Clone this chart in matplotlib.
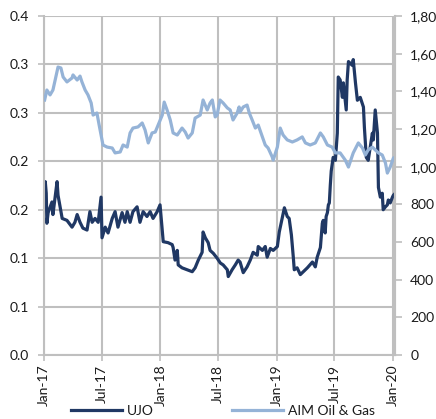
import matplotlib
matplotlib.use("Agg")
import matplotlib.pyplot as plt
import pandas as pd

plt.rcParams['font.family'] = ['Lato', 'DejaVu Sans']

# ---------------- data ----------------
ujo_dates = [
    "2017-01-03", "2017-01-05", "2017-01-08", "2017-01-10", "2017-01-14", "2017-01-26", "2017-01-29",
    "2017-02-11", "2017-02-14", "2017-02-27", "2017-03-14", "2017-03-30", "2017-04-08", "2017-04-15",
    "2017-04-24", "2017-05-03", "2017-05-16", "2017-05-25", "2017-06-01", "2017-06-10", "2017-06-20",
    "2017-06-29", "2017-07-02", "2017-07-12", "2017-07-21", "2017-08-03", "2017-08-12", "2017-08-21",
    "2017-09-03", "2017-09-12", "2017-09-19", "2017-09-28", "2017-10-07", "2017-10-20", "2017-10-29",
    "2017-11-08", "2017-11-20", "2017-11-30", "2017-12-09", "2017-12-22", "2017-12-31",
    "2018-01-07", "2018-01-10", "2018-01-25", "2018-02-07", "2018-02-10", "2018-02-16", "2018-02-23",
    "2018-02-26", "2018-03-10", "2018-03-26", "2018-04-11", "2018-04-20", "2018-04-30", "2018-05-12",
    "2018-05-15", "2018-05-22", "2018-05-31", "2018-06-06", "2018-06-16", "2018-06-28", "2018-07-08",
    "2018-07-17", "2018-07-30", "2018-08-02", "2018-08-14", "2018-08-24", "2018-09-02", "2018-09-08",
    "2018-09-18", "2018-09-30", "2018-10-10", "2018-10-19", "2018-11-01", "2018-11-04", "2018-11-17",
    "2018-11-26", "2018-12-02", "2018-12-12", "2018-12-21",
    "2019-01-03", "2019-01-09", "2019-01-18", "2019-01-25", "2019-02-03", "2019-02-09", "2019-02-16",
    "2019-02-22", "2019-02-25", "2019-03-06", "2019-03-16", "2019-04-07", "2019-04-23", "2019-05-02",
    "2019-05-08", "2019-05-18", "2019-05-24", "2019-05-27", "2019-06-02", "2019-06-05", "2019-06-09",
    "2019-06-12", "2019-06-15", "2019-06-18", "2019-06-21", "2019-06-27", "2019-07-04", "2019-07-10",
    "2019-07-13", "2019-07-19", "2019-07-26", "2019-07-29", "2019-08-07", "2019-08-10", "2019-08-14",
    "2019-08-26", "2019-08-29", "2019-09-05", "2019-09-11", "2019-09-20", "2019-09-30", "2019-10-03",
    "2019-10-09", "2019-10-15", "2019-10-28", "2019-10-31", "2019-11-06", "2019-11-13", "2019-11-16",
    "2019-11-22", "2019-11-28", "2019-12-01", "2019-12-08", "2019-12-14", "2019-12-17", "2019-12-23",
    "2019-12-30", "2020-01-02", "2020-01-08",
]
ujo_values = [
    0.173, 0.179, 0.167, 0.136, 0.147, 0.158, 0.145,
    0.179, 0.165, 0.141, 0.139, 0.132, 0.137, 0.145,
    0.137, 0.131, 0.129, 0.148, 0.137, 0.141, 0.137,
    0.163, 0.121, 0.132, 0.126, 0.141, 0.148, 0.132,
    0.147, 0.137, 0.148, 0.137, 0.148, 0.153, 0.137,
    0.148, 0.143, 0.148, 0.141, 0.148, 0.155,
    0.129, 0.117, 0.116, 0.114, 0.111, 0.098, 0.108,
    0.093, 0.090, 0.088, 0.086, 0.090, 0.098, 0.106,
    0.127, 0.121, 0.116, 0.108, 0.105, 0.100, 0.095,
    0.093, 0.088, 0.081, 0.088, 0.093, 0.098, 0.096,
    0.085, 0.091, 0.098, 0.106, 0.103, 0.112, 0.108,
    0.112, 0.101, 0.110, 0.108,
    0.112, 0.127, 0.141, 0.152, 0.143, 0.141, 0.124,
    0.101, 0.088, 0.090, 0.083, 0.090, 0.096, 0.091,
    0.101, 0.111, 0.136, 0.139, 0.126, 0.143, 0.147,
    0.155, 0.157, 0.175, 0.190, 0.204, 0.201, 0.229,
    0.287, 0.284, 0.266, 0.281, 0.253, 0.284, 0.303,
    0.299, 0.305, 0.281, 0.263, 0.266, 0.256, 0.235,
    0.204, 0.201, 0.229, 0.222, 0.253, 0.229, 0.173,
    0.163, 0.167, 0.150, 0.153, 0.155, 0.160, 0.157,
    0.163, 0.165, 0.167,
]

aim_dates = [
    "2017-01-03", "2017-01-10", "2017-01-20", "2017-01-29", "2017-02-05", "2017-02-14", "2017-02-23",
    "2017-03-02", "2017-03-14", "2017-03-30", "2017-04-02", "2017-04-15", "2017-04-24", "2017-04-30",
    "2017-05-10", "2017-05-19", "2017-05-29", "2017-06-04", "2017-06-16", "2017-06-23", "2017-07-05",
    "2017-07-18", "2017-08-03", "2017-08-12", "2017-08-28", "2017-09-06", "2017-09-19", "2017-09-28",
    "2017-10-07", "2017-10-23", "2017-11-05", "2017-11-14", "2017-11-24", "2017-12-06", "2017-12-16",
    "2017-12-25", "2018-01-07", "2018-01-13", "2018-01-22", "2018-02-01", "2018-02-10", "2018-02-23",
    "2018-03-10", "2018-03-20", "2018-03-29", "2018-04-11", "2018-04-20", "2018-05-06", "2018-05-15",
    "2018-05-28", "2018-06-06", "2018-06-13", "2018-06-22", "2018-06-28", "2018-07-07", "2018-07-17",
    "2018-07-30", "2018-08-08", "2018-08-17", "2018-08-30", "2018-09-05", "2018-09-08", "2018-09-18",
    "2018-09-30", "2018-10-07", "2018-10-16", "2018-10-26", "2018-11-04", "2018-11-17", "2018-11-26",
    "2018-12-05", "2018-12-18", "2018-12-21", "2019-01-03", "2019-01-12", "2019-01-21", "2019-02-03",
    "2019-02-19", "2019-03-06", "2019-03-22", "2019-04-01", "2019-04-16", "2019-05-02", "2019-05-18",
    "2019-05-27", "2019-06-09", "2019-06-24", "2019-07-04", "2019-07-19", "2019-08-04", "2019-08-14",
    "2019-08-29", "2019-09-14", "2019-09-27", "2019-10-06", "2019-10-15", "2019-10-28", "2019-11-06",
    "2019-11-16", "2019-11-28", "2019-12-08", "2019-12-14", "2019-12-23", "2020-01-02", "2020-01-08",
]
aim_values = [
    1354, 1407, 1381, 1407, 1460, 1529, 1524,
    1476, 1450, 1471, 1487, 1460, 1481, 1450,
    1407, 1381, 1338, 1274, 1285, 1221, 1115,
    1104, 1099, 1073, 1078, 1115, 1104, 1179,
    1205, 1211, 1232, 1195, 1126, 1179, 1184,
    1221, 1274, 1343, 1301, 1248, 1179, 1168,
    1205, 1184, 1152, 1179, 1258, 1274, 1354,
    1301, 1338, 1354, 1264, 1274, 1354, 1338,
    1312, 1301, 1248, 1285, 1317, 1290, 1317,
    1327, 1285, 1248, 1205, 1221, 1158, 1115,
    1099, 1051, 1035, 1104, 1205, 1168, 1142,
    1131, 1142, 1158, 1126, 1115, 1126, 1179,
    1158, 1115, 1104, 1073, 1073, 1035, 998,
    1073, 1126, 1099, 1062, 1089, 1104, 1089,
    1073, 1062, 1020, 966, 998, 1046, 1051,
]

series_names = ["UJO", "AIM Oil & Gas"]

left_ticks = [0.0, 0.05, 0.10, 0.15, 0.20, 0.25, 0.30, 0.35]
left_labels = ["0.0", "0.1", "0.1", "0.2", "0.2", "0.3", "0.3", "0.4"]
right_ticks = [0, 200, 400, 600, 800, 1000, 1200, 1400, 1600, 1800]
right_labels = ["0", "200", "400", "600", "800", "1,000", "1,200", "1,400", "1,600", "1,800"]
x_tick_dates = ["2017-01-01", "2017-07-01", "2018-01-01", "2018-07-01",
                "2019-01-01", "2019-07-01", "2020-01-01"]
x_labels = ["Jan-17", "Jul-17", "Jan-18", "Jul-18", "Jan-19", "Jul-19", "Jan-20"]
x_range = ["2017-01-01", "2020-01-07"]

# ---------------- styling ----------------
DARK = "#203864"
LIGHT = "#95B3D7"
GRID = "#BFBFBF"
TXT = "#1a1a1a"
FS = 10

W, H = 436, 419
fig = plt.figure(figsize=(W / 100, H / 100), dpi=100)
ax = fig.add_axes([44 / W, (H - 355) / H, (395 - 44) / W, (355 - 16) / H])
ax2 = ax.twinx()

ax.plot(pd.to_datetime(ujo_dates), ujo_values, color=DARK, lw=2.3,
        solid_joinstyle="round", label=series_names[0])
ax2.plot(pd.to_datetime(aim_dates), aim_values, color=LIGHT, lw=2.3,
         solid_joinstyle="round", label=series_names[1])

ax.set_xlim(pd.to_datetime(x_range[0]), pd.to_datetime(x_range[1]))
ax.set_ylim(left_ticks[0], left_ticks[-1])
ax2.set_ylim(right_ticks[0], right_ticks[-1])

ax.set_yticks(left_ticks)
ax.set_yticklabels(left_labels)
ax2.set_yticks(right_ticks)
ax2.set_yticklabels(right_labels)
ax.set_xticks(pd.to_datetime(x_tick_dates))
ax.set_xticklabels(x_labels, rotation=90)

ax.set_axisbelow(True)
ax.grid(True, color=GRID, lw=1.5)

for a in (ax, ax2):
    for s in a.spines.values():
        s.set_color(GRID)
        s.set_linewidth(1.5)
    a.spines["top"].set_visible(False)
ax2.spines["left"].set_visible(False)
ax2.spines["bottom"].set_visible(False)

ax.tick_params(axis="y", length=4, width=1.2, color=GRID, pad=7, labelsize=FS, labelcolor=TXT)
ax.tick_params(axis="x", length=4, width=1.2, color=GRID, pad=3, labelsize=FS, labelcolor=TXT)
ax2.tick_params(axis="y", length=5, width=1.2, color=GRID, pad=6, labelsize=FS, labelcolor=TXT)

h1, l1 = ax.get_legend_handles_labels()
h2, l2 = ax2.get_legend_handles_labels()
fig.legend(h1 + h2, l1 + l2, ncol=2, loc="center",
           bbox_to_anchor=(223 / W, (H - 411) / H), frameon=False,
           fontsize=FS, handlelength=3.7, handletextpad=0.35,
           columnspacing=5.6, borderpad=0, borderaxespad=0, labelcolor=TXT)

fig.savefig("out.png", dpi=100)
